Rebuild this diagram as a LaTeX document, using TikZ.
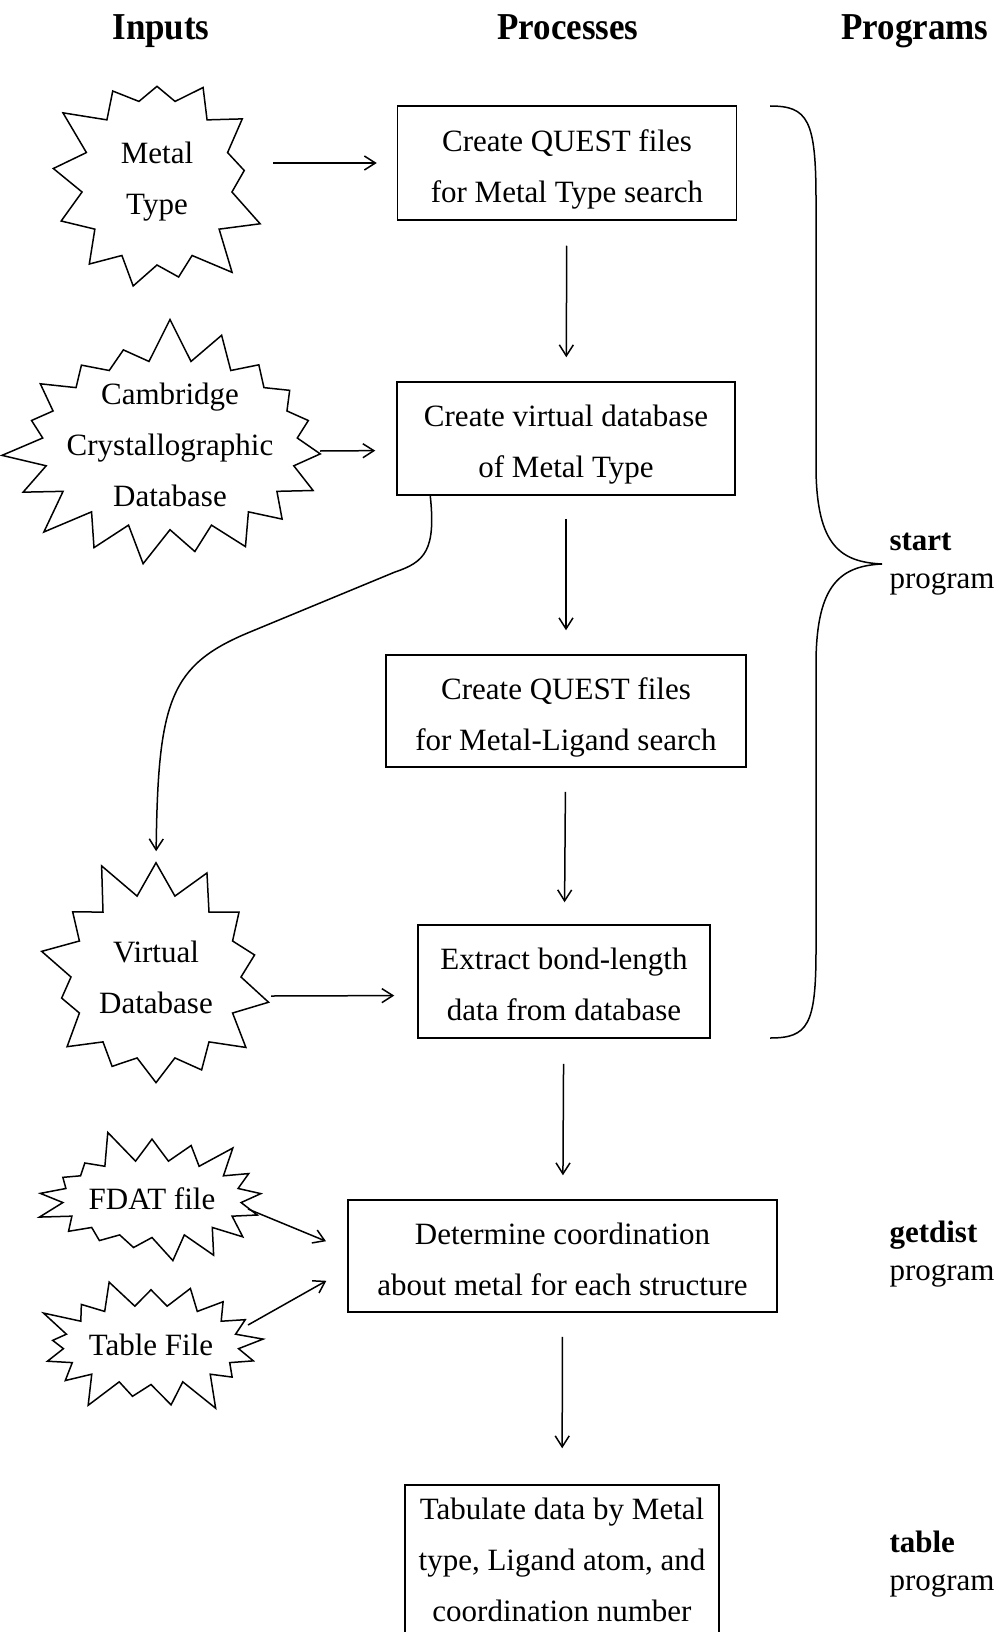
\documentclass[tikz,border=0pt]{standalone}
\usepackage{fontspec}
\setmainfont{Liberation Serif}
\newfontfamily\headfont[FakeStretch=0.92]{Liberation Serif}
\usetikzlibrary{arrows.meta,positioning,shapes.symbols,calc}

\begin{document}
\begin{tikzpicture}[x=1pt,y=-1pt,
  proc/.style={draw,line width=1.5pt,align=center,inner sep=0pt,font=\fontsize{31}{51}\selectfont},
  twoline/.style={text height=78pt,text depth=0pt},
  burst/.style={draw,starburst,line width=1.5pt,align=center,inner sep=0pt,font=\fontsize{31}{51}\selectfont},
  flow/.style={-{Straight Barb[length=11pt,width=14pt]},line width=1.5pt},
  head/.style={anchor=base,font=\headfont\bfseries\fontsize{38}{40}\selectfont},
  prog/.style={anchor=west,align=left,font=\fontsize{31}{37.5}\selectfont}
  ]
  \useasboundingbox (0,0) rectangle (998,1632);
  % column titles
  \node[head] (hin) at (161,40) {Inputs};
  \node[head] (hproc) at (568,40) {Processes};
  \node[head] (hprog) at (915,40) {Programs};
  % processes
  \node[proc,twoline,minimum width=339pt,minimum height=114pt] (b1) at (567,163) {Create QUEST files\\for Metal Type search};
  \node[proc,twoline,minimum width=338pt,minimum height=113pt] (b2) at (566,438.5) {Create virtual database\\of Metal Type};
  \node[proc,twoline,minimum width=360pt,minimum height=112pt] (b3) at (566,711) {Create QUEST files\\for Metal-Ligand search};
  \node[proc,twoline,minimum width=292pt,minimum height=113pt] (b4) at (564,981.5) {Extract bond-length\\data from database};
  \node[proc,twoline,minimum width=429pt,minimum height=112pt] (b5) at (562.5,1256) {Determine coordination\\about metal for each structure};
  \node[proc,minimum width=314pt,minimum height=150pt] (b6) at (562,1560) {Tabulate data by Metal\\type, Ligand atom, and\\coordination number};
  % inputs
  \node[burst,starburst points=13,starburst point height=40pt,random starburst=3,minimum width=231pt,minimum height=246pt] (s1) at (157,182) {Metal\\Type};
  \node[burst,starburst points=19,starburst point height=45pt,random starburst=7,inner xsep=-13pt,inner ysep=-2pt,minimum width=283pt,minimum height=228pt] (s2) at (170,445) {Cambridge\\Crystallographic\\Database};
  \node[burst,starburst points=14,starburst point height=42pt,random starburst=11,minimum width=254pt,minimum height=250pt] (s3) at (156,977) {Virtual\\Database};
  \node[burst,starburst points=17,starburst point height=35pt,random starburst=5,minimum width=193pt,minimum height=147pt] (s4) at (152,1199) {FDAT file};
  \node[burst,starburst points=17,starburst point height=35pt,random starburst=9,minimum width=216pt,minimum height=149pt] (s5) at (151,1345) {Table File};
  % programs
  \node[prog] (pstart) at (886,564) {\textbf{start}\\program};
  \node[prog] (pget) at (886,1254) {\textbf{getdist}\\program};
  \node[prog] (ptab) at (886,1564) {\textbf{table}\\program};
  % brace for start
  \draw[line width=1.5pt] (770,106) .. controls (808,106) and (816,120) .. (816,200) -- (816,470)
    .. controls (817,545) and (840,562) .. (882,564)
    .. controls (840,566) and (817,585) .. (816,660) -- (816,950)
    .. controls (816,1025) and (808,1038) .. (770,1038);
  % connectors
  \draw[flow,shorten >=20pt] ($(b1.west -| s1.center)+(116,0)$) -- (b1.west);
  \draw[flow,shorten >=21pt] ($(s2.center)+(150,6)$) -- ([yshift=-12pt]b2.west);
  \draw[flow,shorten >=23pt] ($(s3.center)+(115,19)$) -- ([yshift=-14pt]b4.west);
  \draw[flow,shorten <=25pt,shorten >=24pt] (b1) -- (b2);
  \draw[flow,shorten <=23pt,shorten >=24pt] (b2) -- (b3);
  \draw[flow,shorten <=24pt,shorten >=22pt] (b3) -- (b4);
  \draw[flow,shorten <=25pt,shorten >=24pt] (b4) -- (b5);
  \draw[flow,shorten <=24pt,shorten >=36pt] (b5) -- (b6);
  \draw[flow,shorten >=10pt] ([xshift=34pt]b2.south west) .. controls (436,550) and (425,562) .. (395,572)
    -- (250,632) .. controls (170,665) and (158,700) .. (s3.north);
  \draw[flow,shorten >=23pt] ($(s4.center)+(96,10)$) -- ([yshift=6pt]b5.west);
  \draw[flow,shorten >=24pt] ($(s5.center)+(97,-20)$) -- ([yshift=-13pt]b5.west);
\end{tikzpicture}
\end{document}
